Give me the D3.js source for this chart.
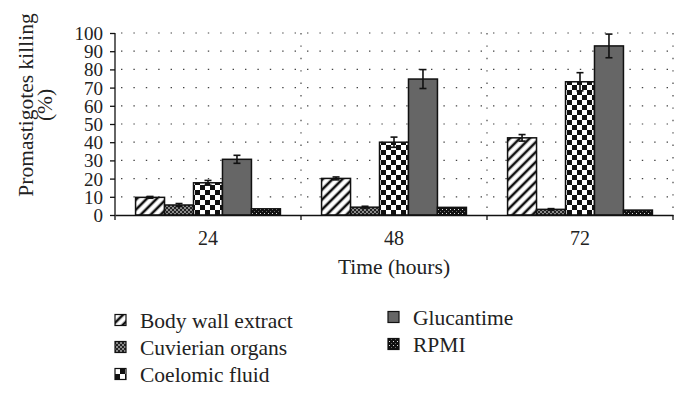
<!DOCTYPE html>
<html>
<head>
<meta charset="utf-8" />
<title>Promastigotes killing</title>
<script src="https://cdn.jsdelivr.net/npm/d3@7"></script>
<style>
  body { margin: 0; background: #fff; }
  svg text { font-family: "Liberation Serif", "DejaVu Serif", serif; fill: #222; }
  .grid line { stroke: #444; stroke-width: 1.2; stroke-dasharray: 1.4 11; }
  .bar { stroke: #111; stroke-width: 1.5; }
  .err { stroke: #111; stroke-width: 1.6; }
</style>
</head>
<body>
<div id="chart"></div>
<script>
// data
var times = ["24", "48", "72"];
var series = ["Body wall extract", "Cuvierian organs", "Coelomic fluid", "Glucantime", "RPMI"];
var bodyWall   = [9.7, 20.1, 42.4];
var cuvierian  = [5.5, 4.3, 3.1];
var coelomic   = [17.7, 40.0, 73.2];
var glucantime = [30.6, 74.7, 92.9];
var rpmi       = [3.4, 4.2, 2.7];
var bodyWallErr   = [0.5, 0.8, 1.8];
var cuvierianErr  = [0.8, 0.5, 0.4];
var coelomicErr   = [1.3, 2.8, 5.0];
var glucantimeErr = [2.2, 5.2, 6.5];
var rpmiErr       = [0, 0, 0];
var yTicks = [0, 10, 20, 30, 40, 50, 60, 70, 80, 90, 100];

var values = [bodyWall, cuvierian, coelomic, glucantime, rpmi];
var errors = [bodyWallErr, cuvierianErr, coelomicErr, glucantimeErr, rpmiErr];
var fills = ["url(#diag)", "url(#hatch)", "url(#checker)", "#666", "url(#dots)"];

var width = 688, height = 397;
var mLeft = 115, mRight = 673, mTop = 33, mBottom = 215;

var svg = d3.select("#chart").append("svg")
    .attr("width", width)
    .attr("height", height);

// fill patterns
var defs = svg.append("defs");
var p = defs.append("pattern").attr("id", "diag").attr("patternUnits", "userSpaceOnUse")
    .attr("width", 7).attr("height", 7).attr("patternTransform", "rotate(45)");
p.append("rect").attr("width", 7).attr("height", 7).attr("fill", "#fff");
p.append("line").attr("x1", 2).attr("y1", 0).attr("x2", 2).attr("y2", 7)
    .attr("stroke", "#111").attr("stroke-width", 2.6);

p = defs.append("pattern").attr("id", "hatch").attr("patternUnits", "userSpaceOnUse")
    .attr("width", 4).attr("height", 4);
p.append("rect").attr("width", 4).attr("height", 4).attr("fill", "#8a8a8a");
p.append("path").attr("d", "M0,0L4,4M4,0L0,4").attr("stroke", "#222").attr("stroke-width", 1);

p = defs.append("pattern").attr("id", "checker").attr("patternUnits", "userSpaceOnUse")
    .attr("width", 10).attr("height", 10);
p.append("rect").attr("width", 10).attr("height", 10).attr("fill", "#fff");
p.append("rect").attr("width", 5).attr("height", 5).attr("fill", "#111");
p.append("rect").attr("x", 5).attr("y", 5).attr("width", 5).attr("height", 5).attr("fill", "#111");

p = defs.append("pattern").attr("id", "dots").attr("patternUnits", "userSpaceOnUse")
    .attr("width", 4).attr("height", 4);
p.append("rect").attr("width", 4).attr("height", 4).attr("fill", "#111");
p.append("rect").attr("x", 1).attr("y", 1).attr("width", 1).attr("height", 1).attr("fill", "#ddd");
p.append("rect").attr("x", 3).attr("y", 3).attr("width", 0.8).attr("height", 0.8).attr("fill", "#999");

// scales
var x0 = d3.scaleBand().domain(times).range([mLeft, mRight]).padding(0);
var x1 = d3.scaleBand().domain(d3.range(series.length)).range([0, x0.bandwidth()])
    .paddingInner(0).paddingOuter(0.71);
var y = d3.scaleLinear().domain([0, 100]).range([mBottom, mTop]);

// dotted grid
var grid = svg.append("g").attr("class", "grid");
grid.selectAll(".h").data(yTicks.slice(1)).enter().append("line")
    .attr("x1", mLeft + 6).attr("x2", mRight)
    .attr("y1", function(d) { return y(d); })
    .attr("y2", function(d) { return y(d); });
grid.selectAll(".v").data(times).enter().append("line")
    .attr("x1", function(d) { return x0(d) + x0.bandwidth(); })
    .attr("x2", function(d) { return x0(d) + x0.bandwidth(); })
    .attr("y1", y(100)).attr("y2", y(0));

// bars
var groups = svg.selectAll(".grp").data(times).enter().append("g")
    .attr("transform", function(d) { return "translate(" + x0(d) + ",0)"; });

groups.selectAll("rect").data(function(d, i) {
        return values.map(function(v, s) { return { s: s, v: v[i], e: errors[s][i] }; });
    }).enter().append("rect")
    .attr("class", "bar")
    .attr("x", function(d) { return x1(d.s); })
    .attr("width", x1.bandwidth())
    .attr("y", function(d) { return y(d.v); })
    .attr("height", function(d) { return y(0) - y(d.v); })
    .attr("fill", function(d) { return fills[d.s]; });

// error bars
var eb = groups.selectAll(".eb").data(function(d, i) {
        return values.map(function(v, s) { return { s: s, v: v[i], e: errors[s][i] }; })
            .filter(function(d) { return d.e > 0; });
    }).enter().append("g").attr("class", "err");
eb.append("line")
    .attr("x1", function(d) { return x1(d.s) + x1.bandwidth() / 2; })
    .attr("x2", function(d) { return x1(d.s) + x1.bandwidth() / 2; })
    .attr("y1", function(d) { return y(d.v + d.e); })
    .attr("y2", function(d) { return y(d.v - d.e); });
eb.selectAll(".cap").data(function(d) { return [d.v + d.e, d.v - d.e].map(function(k) { return { s: d.s, k: k }; }); })
    .enter().append("line")
    .attr("x1", function(d) { return x1(d.s) + x1.bandwidth() / 2 - 3.5; })
    .attr("x2", function(d) { return x1(d.s) + x1.bandwidth() / 2 + 3.5; })
    .attr("y1", function(d) { return y(d.k); })
    .attr("y2", function(d) { return y(d.k); });

// y axis
var yAxis = svg.append("g")
    .attr("transform", "translate(" + mLeft + ",0)")
    .call(d3.axisLeft(y).tickValues(yTicks).tickSize(5).tickPadding(7));
yAxis.select(".domain").attr("d", "M0," + y(100) + "V" + y(0)).attr("stroke", "#111").attr("stroke-width", 1.3);
yAxis.selectAll(".tick line").attr("stroke", "#111").attr("stroke-width", 1.3);
yAxis.selectAll(".tick text").style("font-size", "19px").attr("fill", "#222").attr("dy", "0.34em");

// x axis
var xAxis = svg.append("g")
    .attr("transform", "translate(0," + mBottom + ")")
    .call(d3.axisBottom(x0).tickSize(0).tickPadding(16));
xAxis.select(".domain").attr("stroke", "#111").attr("stroke-width", 1.3);
xAxis.selectAll(".tick text").style("font-size", "20px").attr("fill", "#222");
xAxis.selectAll(".bnd").data([times[0]].concat(times)).enter().append("line")
    .attr("x1", function(d, i) { return i == 0 ? mLeft : x0(d) + x0.bandwidth(); })
    .attr("x2", function(d, i) { return i == 0 ? mLeft : x0(d) + x0.bandwidth(); })
    .attr("y1", 0).attr("y2", 5)
    .attr("stroke", "#111").attr("stroke-width", 1.3);

// titles
svg.append("text")
    .attr("x", (mLeft + mRight) / 2).attr("y", 274)
    .attr("text-anchor", "middle").style("font-size", "21.5px")
    .text("Time (hours)");
var yt = svg.append("text")
    .attr("transform", "translate(33,105) rotate(-90)")
    .attr("text-anchor", "middle").style("font-size", "21.5px");
yt.append("tspan").attr("x", 0).attr("y", 0).text("Promastigotes killing");
yt.append("tspan").attr("x", 0).attr("y", 19).text("(%)");

// legend
var legendPos = [[115, 320], [115, 347], [115, 374], [388, 317], [388, 344]];
var leg = svg.selectAll(".leg").data(series).enter().append("g")
    .attr("transform", function(d, i) { return "translate(" + legendPos[i][0] + "," + legendPos[i][1] + ")"; });
leg.append("rect")
    .attr("x", 0).attr("y", -5.5).attr("width", 11).attr("height", 11)
    .attr("fill", function(d, i) { return fills[i]; })
    .attr("stroke", "#111").attr("stroke-width", 1.2);
leg.append("text")
    .attr("x", 25).attr("y", 0).attr("dy", "0.35em")
    .style("font-size", "21.5px")
    .text(function(d) { return d; });
</script>
</body>
</html>
